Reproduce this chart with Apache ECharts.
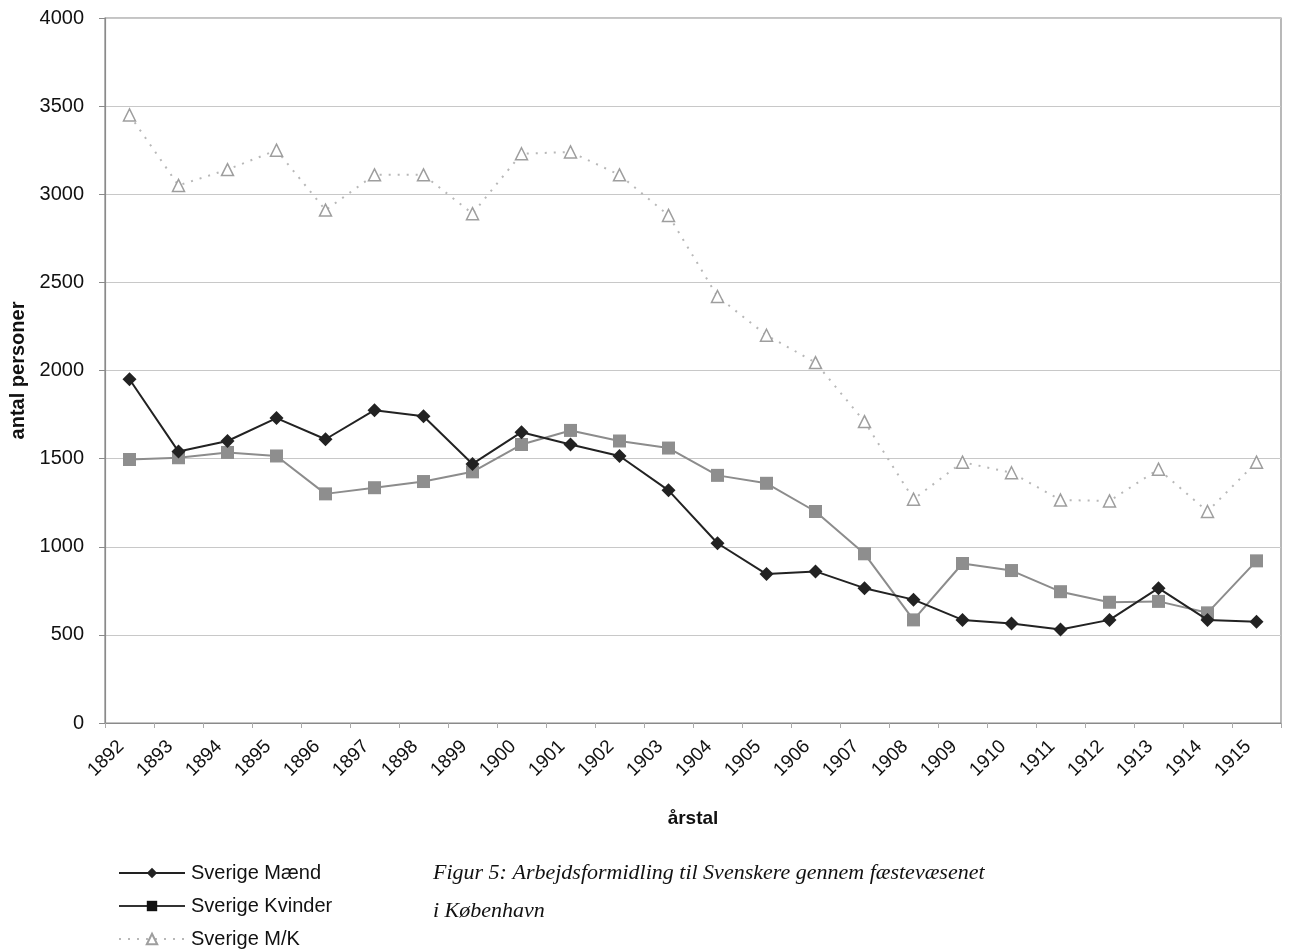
<!DOCTYPE html>
<html>
<head>
<meta charset="utf-8">
<script src="https://cdn.jsdelivr.net/npm/echarts@6/dist/echarts.min.js"></script>
<style>
html,body{margin:0;padding:0;background:#fff;}
#chart{width:1289px;height:952px;}
</style>
</head>
<body>
<div id="chart"></div>
<script>
const years = ['1892','1893','1894','1895','1896','1897','1898','1899','1900','1901','1902','1903','1904','1905','1906','1907','1908','1909','1910','1911','1912','1913','1914','1915'];
const maend = [1950,1540,1600,1730,1610,1775,1740,1470,1650,1580,1515,1320,1020,845,860,765,700,585,565,530,585,765,585,575];
const kvinder = [1495,1505,1535,1515,1300,1335,1370,1425,1580,1660,1600,1560,1405,1360,1200,960,585,905,865,745,685,690,625,920];
const mk = [3450,3050,3140,3250,2910,3110,3110,2890,3230,3240,3110,2880,2420,2200,2045,1710,1270,1480,1420,1265,1260,1440,1200,1480];
const yTicks = [0,500,1000,1500,2000,2500,3000,3500,4000];
const seriesNames = ['Sverige Mænd','Sverige Kvinder','Sverige M/K'];
const captionLines = ['Figur 5: Arbejdsformidling til Svenskere gennem fæstevæsenet','i København'];

const chart = echarts.init(document.getElementById('chart'), null, {renderer:'canvas'});
const font = 'Liberation Sans, Arial, sans-serif';
chart.setOption({
  backgroundColor:'#ffffff',
  animation:false,
  grid:{left:103,right:8,top:18,bottom:229,show:true,borderColor:'#8a8a8a',borderWidth:1.2,backgroundColor:'transparent'},
  title:{
    text: captionLines.join('\n'),
    left:428, top:849,
    textStyle:{fontFamily:'Liberation Serif, Times New Roman, serif',fontStyle:'italic',fontWeight:'normal',fontSize:22,color:'#111',lineHeight:38}
  },
  legend:{
    orient:'vertical', left:118, top:863, padding:0,
    itemWidth:66, itemHeight:13, itemGap:13,
    textStyle:{fontFamily:font,fontSize:20,color:'#111',padding:[0,0,0,1]},
    data:[
      {name:seriesNames[0]},
      {name:seriesNames[1], itemStyle:{color:'#111'}, lineStyle:{color:'#333'}},
      {name:seriesNames[2]}
    ]
  },
  xAxis:{
    type:'category', data:years, boundaryGap:true,
    name:'årstal', nameLocation:'middle', nameGap:86,
    nameTextStyle:{fontFamily:font,fontSize:19,fontWeight:'bold',color:'#111'},
    axisLine:{lineStyle:{color:'#8a8a8a',width:1.2}},
    axisTick:{show:true,length:5,lineStyle:{color:'#aaa'}},
    axisLabel:{rotate:45,fontFamily:font,fontSize:19,color:'#111',margin:12,padding:[0,12,0,0]},
    splitLine:{show:false}
  },
  yAxis:{
    type:'value', min:yTicks[0], max:yTicks[yTicks.length-1], interval:500,
    name:'antal personer', nameLocation:'middle', nameGap:77, nameRotate:90,
    nameTextStyle:{fontFamily:font,fontSize:20,fontWeight:'bold',color:'#111'},
    axisLine:{show:true,lineStyle:{color:'#8a8a8a',width:1.2}},
    axisTick:{show:true,length:6,lineStyle:{color:'#8a8a8a'}},
    axisLabel:{fontFamily:font,fontSize:20,color:'#111',margin:21,formatter:function(v){return String(v);}},
    splitLine:{show:true,lineStyle:{color:'#c8c8c8',width:1}}
  },
  series:[
    {
      name:seriesNames[0], type:'line', data:maend, symbol:'diamond', symbolSize:14,
      lineStyle:{color:'#222',width:2}, itemStyle:{color:'#222',borderWidth:0}, z:5
    },
    {
      name:seriesNames[1], type:'line', data:kvinder, symbol:'rect', symbolSize:13,
      lineStyle:{color:'#8c8c8c',width:2}, itemStyle:{color:'#8e8e8e',borderWidth:0}, z:4
    },
    {
      name:seriesNames[2], type:'line', data:mk, symbol:'triangle', symbolSize:12,
      lineStyle:{color:'#b8b8b8',width:2,type:[2,7]},
      itemStyle:{color:'#ffffff',borderColor:'#9e9e9e',borderWidth:1.5}, z:3
    }
  ]
});
</script>
</body>
</html>
